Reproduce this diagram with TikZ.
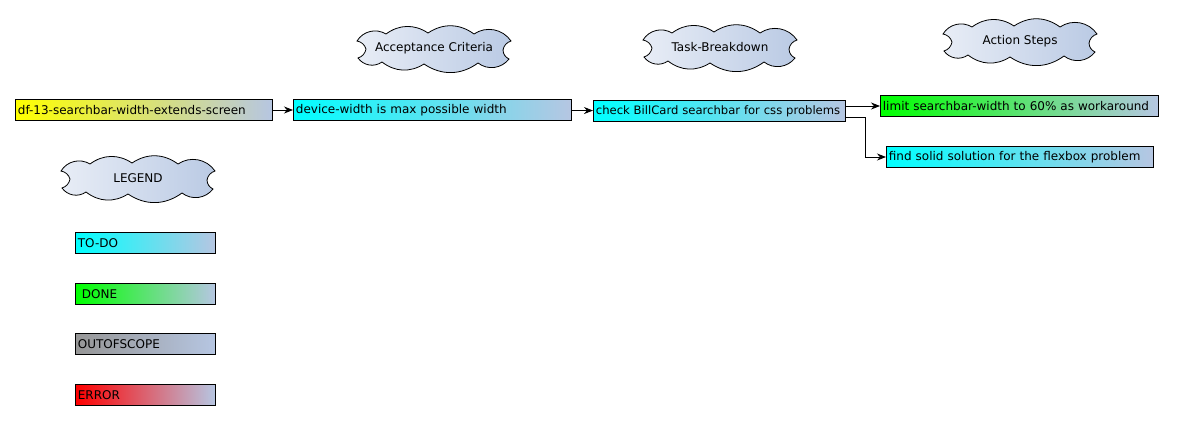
\documentclass[tikz,border=0pt]{standalone}
\usepackage{fontspec}
\setmainfont{DejaVu Sans}
\usepackage{xcolor}
\usepackage{tikz}
\usetikzlibrary{arrows.meta}
\definecolor{tailblue}{RGB}{182,198,226}
\definecolor{cloudlight}{RGB}{232,237,246}
\definecolor{clouddark}{RGB}{186,202,228}
\definecolor{todocyan}{RGB}{0,255,255}
\definecolor{donegreen}{RGB}{0,255,0}
\definecolor{scopegray}{RGB}{150,150,150}
\definecolor{errorred}{RGB}{255,0,0}
\tikzset{
  stepbox/.style={draw, line width=0.8pt, anchor=west, inner xsep=2.5pt, inner ysep=0pt,
    minimum height=21pt, align=left, text width=#1, right color=tailblue},
  puff/.style={draw, line width=0.8pt, left color=cloudlight, right color=clouddark},
  arr/.style={line width=0.8pt, -{Stealth[length=9pt,width=7pt]}}
}
\newcommand\cloudtag[3]{%
  \path[puff, shift={(#2)}] (-77,-7) to[bend left=45] (-48,-14) to[bend left=35] (-6,-15)
    to[bend left=35] (40,-14) to[bend left=45] (77,-7) to[bend right=30] (69,2)
    to[bend right=30] (75,11) to[bend left=45] (44,15) to[bend left=35] (-10,16)
    to[bend left=35] (-52,14) to[bend left=45] (-76,10) to[bend right=30] (-68,1)
    to[bend right=30] (-77,-7) -- cycle;
  \node (#1) at (#2) {#3};}

\begin{document}
\begin{tikzpicture}[x=1pt,y=-1pt,font=\fontsize{12}{14}\selectfont]
\useasboundingbox (0,0) rectangle (1178,421);
\cloudtag{acc}{434,48}{Acceptance Criteria}
\cloudtag{task}{720,47}{Task-Breakdown}
\cloudtag{act}{1020,41}{Action Steps}
\cloudtag{leg}{138,178}{LEGEND}
\node[stepbox=252pt, left color=yellow] (story) at (15,110) {df-13-searchbar-width-extends-screen};
\node[stepbox=273pt, left color=todocyan] (crit) at (293,110) {device-width is max possible width};
\node[stepbox=247pt, left color=todocyan, font=\fontsize{11.6}{14}\selectfont] (check) at (593,111) {\mbox{check BillCard searchbar for css problems}};
\node[stepbox=273pt, left color=donegreen] (limit) at (880,106) {limit searchbar-width to 60\% as workaround};
\node[stepbox=262pt, left color=todocyan] (solid) at (886,157) {find solid solution for the flexbox problem};
\node[stepbox=135pt, left color=todocyan] (todo) at (75,243) {TO-DO};
\node[stepbox=135pt, left color=donegreen] (done) at (75,294) {\ DONE};
\node[stepbox=135pt, left color=scopegray] (oos) at (75,344) {OUTOFSCOPE};
\node[stepbox=135pt, left color=errorred] (err) at (75,395) {ERROR};
\draw[arr] (story) -- (crit);
\draw[arr] (crit) -- (check);
\draw[arr] (check.east |- limit.west) -- (limit.west);
\draw[arr] ([yshift=-6pt]check.east) -- ++(20pt,0) |- (solid.west);
\end{tikzpicture}
\end{document}
